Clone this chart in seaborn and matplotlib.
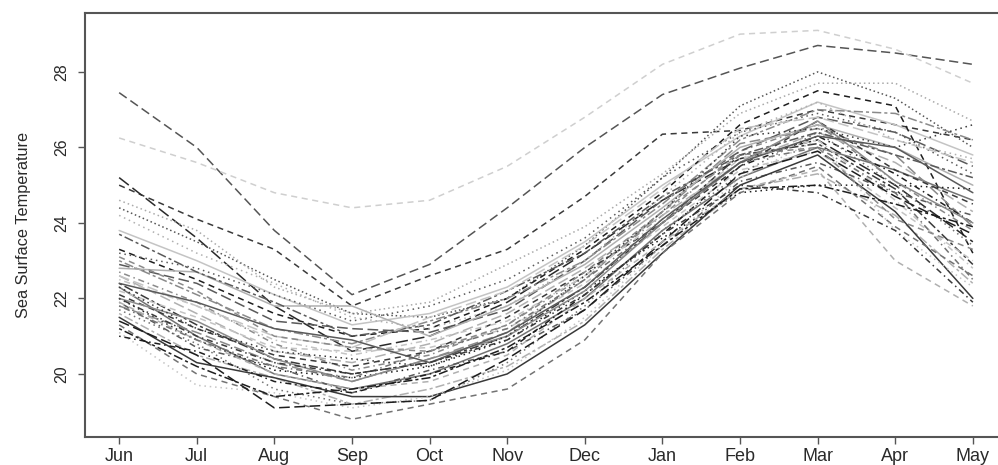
import matplotlib
matplotlib.use("Agg")
import matplotlib.pyplot as plt
import seaborn as sns
import pandas as pd

months = ["Jun", "Jul", "Aug", "Sep", "Oct", "Nov", "Dec", "Jan", "Feb", "Mar", "Apr", "May"]
y_ticks = [20, 22, 24, 26, 28]
y_label = "Sea Surface Temperature"

c01 = [27.45, 26.0, 23.8, 22.1, 22.9, 24.4, 26.0, 27.4, 28.1, 28.7, 28.5, 28.2]
c02 = [26.25, 25.6, 24.8, 24.4, 24.6, 25.5, 26.8, 28.2, 29.0, 29.1, 28.6, 27.7]
c03 = [25.0, 24.1, 23.3, 21.8, 22.6, 23.3, 24.7, 26.35, 26.45, 27.0, 26.6, 26.2]
c04 = [25.2, 23.6, 21.8, 20.6, 21.0, 21.9, 23.2, 24.6, 25.7, 26.2, 25.0, 23.5]
c05 = [24.4, 23.5, 22.5, 21.6, 21.5, 22.0, 23.4, 25.2, 27.1, 28.0, 27.3, 26.0]
c06 = [24.6, 23.8, 22.3, 21.6, 21.9, 22.9, 23.9, 25.3, 26.9, 27.7, 27.7, 26.7]
c07 = [23.8, 23.0, 22.1, 21.3, 21.6, 22.3, 23.5, 25.0, 26.3, 27.2, 26.6, 25.8]
c08 = [23.3, 22.5, 21.6, 21.0, 21.2, 22.0, 23.3, 24.8, 26.6, 27.5, 27.1, 23.2]
c09 = [23.2, 22.8, 22.1, 21.4, 21.8, 22.5, 23.6, 25.2, 26.4, 26.9, 26.4, 25.3]
c10 = [22.7, 21.9, 20.8, 20.1, 20.5, 21.3, 22.6, 24.2, 25.9, 26.6, 25.1, 23.8]
c11 = [22.6, 21.6, 20.6, 20.3, 20.8, 21.6, 22.8, 24.2, 25.6, 26.4, 25.6, 24.3]
c12 = [22.4, 21.3, 20.4, 20.0, 20.3, 21.0, 22.3, 24.0, 25.8, 26.1, 24.9, 22.9]
c13 = [22.3, 21.0, 20.0, 19.6, 20.0, 20.8, 22.0, 23.8, 25.2, 26.0, 25.4, 24.6]
c14 = [22.2, 21.5, 20.7, 20.6, 20.7, 21.2, 22.4, 23.9, 25.4, 25.9, 24.4, 23.0]
c15 = [22.0, 20.9, 20.1, 19.9, 20.2, 20.9, 22.2, 23.6, 24.8, 25.0, 25.0, 24.9]
c16 = [21.9, 20.7, 20.2, 19.5, 20.1, 20.6, 21.7, 23.4, 25.1, 25.6, 24.8, 24.2]
c17 = [21.8, 21.1, 20.3, 19.8, 20.4, 21.1, 22.5, 24.3, 26.1, 26.5, 25.8, 23.9]
c18 = [21.6, 20.5, 19.9, 19.2, 19.6, 20.2, 21.4, 23.3, 24.9, 25.3, 24.2, 22.4]
c19 = [21.5, 20.3, 19.9, 19.4, 19.4, 20.0, 21.3, 23.2, 25.0, 25.8, 24.3, 22.0]
c20 = [21.3, 20.0, 19.4, 18.8, 19.2, 19.6, 20.9, 23.2, 24.8, 25.5, 23.9, 22.6]
c21 = [21.1, 19.7, 19.5, 19.1, 19.4, 20.1, 21.5, 23.4, 25.2, 26.2, 23.8, 22.3]
c22 = [21.0, 20.6, 19.8, 19.5, 20.0, 20.6, 22.1, 23.7, 25.5, 26.3, 25.3, 24.0]
c23 = [22.9, 22.4, 21.4, 21.2, 21.1, 21.7, 23.0, 24.6, 25.9, 26.8, 26.4, 25.5]
c24 = [23.0, 22.1, 21.2, 20.8, 21.4, 22.0, 23.0, 24.5, 26.2, 27.0, 26.9, 26.2]
c25 = [22.8, 22.7, 21.8, 21.8, 21.0, 21.8, 22.9, 24.4, 26.0, 26.6, 26.0, 25.0]
c26 = [22.1, 21.2, 20.5, 20.2, 20.6, 21.5, 22.7, 24.0, 25.5, 26.7, 25.4, 24.5]
c27 = [21.7, 20.8, 19.6, 19.2, 19.3, 20.3, 21.8, 23.8, 25.3, 26.4, 25.0, 23.4]
c28 = [22.5, 21.8, 20.9, 20.5, 20.9, 21.4, 22.6, 24.1, 25.7, 26.2, 24.6, 22.8]
c29 = [21.4, 20.5, 19.1, 19.2, 19.3, 20.4, 21.7, 23.5, 25.3, 25.9, 24.7, 23.7]
c30 = [23.7, 22.7, 21.9, 21.0, 21.3, 22.2, 23.2, 24.7, 25.8, 26.4, 25.8, 25.2]
c31 = [22.0, 21.4, 20.4, 19.8, 20.4, 21.0, 22.2, 24.0, 25.6, 26.7, 25.1, 24.0]
c32 = [21.9, 20.9, 20.0, 19.6, 19.8, 20.5, 22.0, 23.5, 24.9, 25.4, 23.0, 21.8]
c33 = [22.3, 21.2, 20.6, 20.4, 20.2, 21.0, 22.6, 24.3, 26.3, 26.5, 26.0, 26.6]
c34 = [21.8, 20.9, 20.2, 19.9, 20.6, 21.2, 22.5, 24.0, 25.6, 26.0, 24.8, 22.5]
c35 = [22.6, 21.8, 21.0, 20.7, 21.5, 22.2, 23.4, 24.9, 26.5, 26.8, 26.2, 25.6]
c36 = [21.2, 20.2, 19.4, 19.6, 19.9, 20.7, 21.9, 23.4, 24.9, 25.0, 24.5, 23.9]
c37 = [22.4, 21.9, 21.2, 20.9, 20.3, 21.1, 22.3, 24.1, 25.6, 26.3, 26.0, 24.8]
c38 = [23.1, 22.2, 21.0, 20.7, 20.6, 21.3, 22.7, 24.3, 25.8, 26.0, 24.1, 23.3]
c39 = [24.2, 23.2, 22.4, 21.5, 21.2, 21.8, 23.0, 24.7, 26.4, 27.2, 26.2, 25.7]
c40 = [22.0, 21.0, 20.3, 20.0, 20.3, 20.9, 22.1, 23.7, 25.0, 24.8, 23.8, 21.9]

curves = [c01, c02, c03, c04, c05, c06, c07, c08, c09, c10,
          c11, c12, c13, c14, c15, c16, c17, c18, c19, c20,
          c21, c22, c23, c24, c25, c26, c27, c28, c29, c30,
          c31, c32, c33, c34, c35, c36, c37, c38, c39, c40]

rows = []
for k, vals in enumerate(curves):
    for i, v in enumerate(vals):
        rows.append({"curve": k, "month": i, "sst": v})
df = pd.DataFrame(rows)

# styles (R-like lty cycle and grey shades)
ltys = ["-", (0, (4, 3)), (0, (1, 2.5)), (0, (1, 2.5, 4, 2.5)), (0, (7, 3)), (0, (2, 2, 6, 2))]
greys = ["#1e1e1e", "#5a5a5a", "#8a8a8a", "#b0b0b0", "#3a3a3a", "#737373", "#c4c4c4"]
special = {0: ("#555555", (0, (6, 3))), 1: ("#cfcfcf", (0, (4, 3))),
           2: ("#3a3a3a", (0, (4, 3))), 3: ("#2a2a2a", (0, (8, 3))),
           4: ("#555555", (0, (1, 1.8))), 5: ("#aaaaaa", (0, (1, 2)))}

sns.set_style("white")
plt.rcParams["font.family"] = ["Liberation Sans", "DejaVu Sans"]

fig = plt.figure(figsize=(9.98, 4.65), dpi=100)
ax = fig.add_axes([85 / 998, 1 - 437 / 465, 922 / 998, 424 / 465])

for k in range(len(curves)):
    if k in special:
        col, ls = special[k]
    else:
        col = greys[k % len(greys)]
        ls = ltys[k % len(ltys)]
    sns.lineplot(data=df[df["curve"] == k], x="month", y="sst", ax=ax,
                 color=col, linestyle=ls, linewidth=1.1, legend=False)

ax.set_xlim(-0.44, 11.44)
ax.set_ylim(18.33, 29.56)
ax.set_xticks(range(len(months)))
ax.set_xticklabels(months, fontsize=13, color="#2a2a2a")
ax.set_yticks(y_ticks)
ax.set_yticklabels([str(t) for t in y_ticks], fontsize=11.5, rotation=90,
                   va="center", color="#2a2a2a")
ax.set_xlabel("")
ax.set_ylabel(y_label, fontsize=11.7, color="#2a2a2a", labelpad=17)
ax.tick_params(axis="both", direction="out", length=5, width=1.0, color="#555555",
               bottom=True, left=True, pad=3)
ax.tick_params(axis="y", pad=6)
for s in ax.spines.values():
    s.set_color("#555555")
    s.set_linewidth(1.5)

fig.savefig("out.png", dpi=100, facecolor="white")
